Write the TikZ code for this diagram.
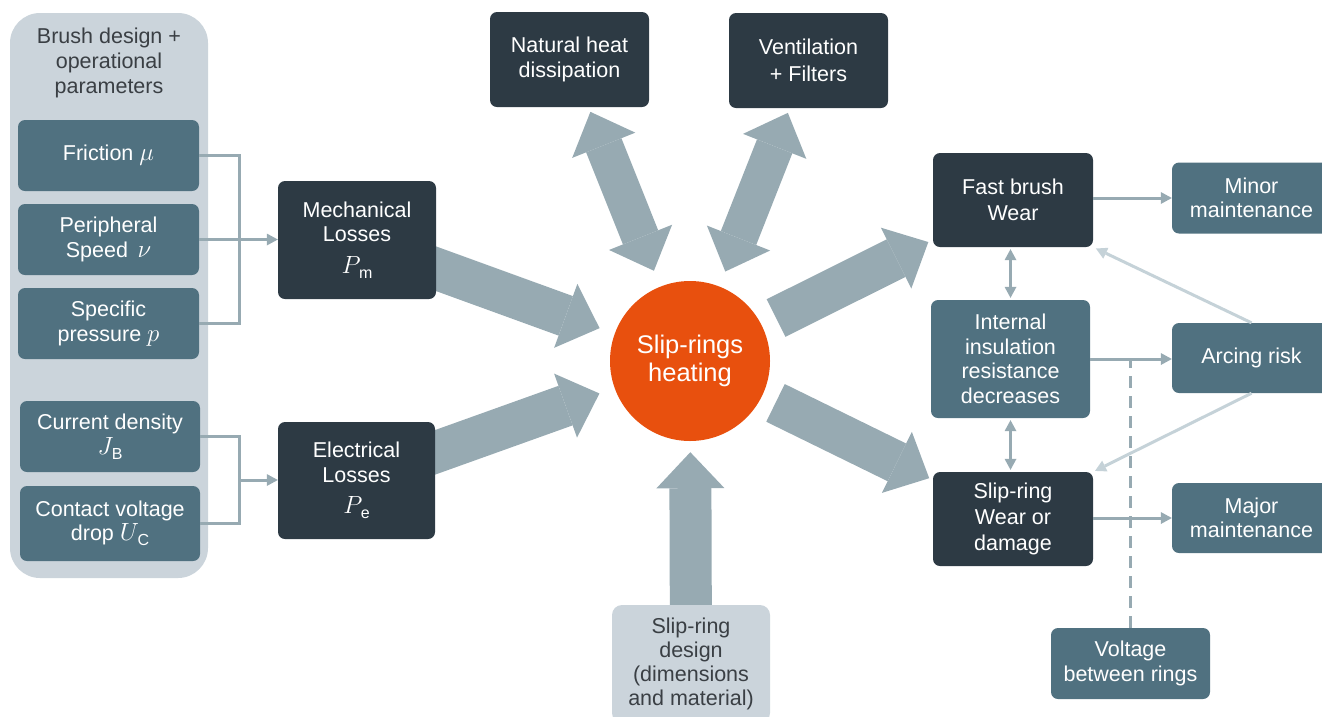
\documentclass[tikz,border=0pt]{standalone}
\usepackage{fontspec}
\setmainfont{Liberation Sans}
\usetikzlibrary{arrows.meta}
\definecolor{darkbox}{HTML}{2D3A44}
\definecolor{tealbox}{HTML}{507180}
\definecolor{panelgray}{HTML}{CBD4DB}
\definecolor{arrgray}{HTML}{97AAB2}
\definecolor{lightarr}{HTML}{C5D2D8}
\definecolor{heatorange}{HTML}{E8500E}
\definecolor{titlegray}{HTML}{3A3F44}
\newcommand{\bigmath}[1]{{\fontsize{24.88}{25}\selectfont$#1$}}
\newcommand{\subtxt}[1]{\kern-1.5pt\raisebox{-5pt}{\fontsize{16}{16}\selectfont #1}}
\pgfdeclarelayer{bg}
\pgfsetlayers{bg,main}
\tikzset{
  box/.style={rectangle, rounded corners=7pt, align=center, inner sep=0pt, text=white},
  darkb/.style={box, fill=darkbox},
  tealb/.style={box, fill=tealbox},
  fat/.style={draw=arrgray, line width=42pt, -{Triangle[length=36pt,width=68pt,line width=0pt]}},
  fatboth/.style={draw=arrgray, line width=38pt, {Triangle[length=36pt,width=68pt,line width=0pt]}-{Triangle[length=36pt,width=68pt,line width=0pt]}},
  conn/.style={draw=arrgray, line width=3pt},
  arr/.style={conn, -{Triangle[length=11pt,width=12pt,line width=0pt]}},
  darr/.style={conn, {Triangle[length=11pt,width=12pt,line width=0pt]}-{Triangle[length=11pt,width=12pt,line width=0pt]}},
  larr/.style={draw=lightarr, line width=3pt, -{Triangle[length=11pt,width=12pt,line width=0pt]}},
  dashline/.style={draw=arrgray, line width=3pt, dash pattern=on 12pt off 8pt},
}
\begin{document}
\begin{tikzpicture}[x=1pt,y=-1pt,font=\fontsize{21.5}{24.5}\selectfont]
\useasboundingbox (0,0) rectangle (1322,716);
\clip (0,0) rectangle (1322,716);

% left panel
\node[box, fill=panelgray, rounded corners=30pt, minimum width=198pt, minimum height=565pt] (panel) at (109,295.5) {};
\node[align=center, text=titlegray, font=\fontsize{21.5}{25}\selectfont] (ptitle) at (109,63) {Brush design +\\operational\\parameters};
\node[tealb, minimum width=181pt, minimum height=71pt] (fric) at (108.5,155.5) {Friction \bigmath{\mu}};
\node[tealb, minimum width=181pt, minimum height=71pt] (periph) at (108.5,239.5) {Peripheral\\Speed\, \bigmath{\nu}};
\node[tealb, minimum width=181pt, minimum height=71pt] (spec) at (108.5,323.5) {Specific\\pressure \bigmath{p}};
\node[tealb, minimum width=180pt, minimum height=71pt] (cur) at (110,436.5) {Current density\\\bigmath{J}\subtxt{B}};
\node[tealb, minimum width=180pt, minimum height=75pt] (cont) at (110,523.5) {Contact voltage\\drop \bigmath{U}\subtxt{C}};

% losses
\node[darkb, minimum width=158pt, minimum height=118pt] (mech) at (357,240) {Mechanical\\Losses\\[7pt]\bigmath{P}\subtxt{m}};
\node[darkb, minimum width=157pt, minimum height=117pt] (elec) at (356.5,480.5) {Electrical\\Losses\\[7pt]\bigmath{P}\subtxt{e}};

% top
\node[darkb, minimum width=159pt, minimum height=95pt] (nat) at (569.5,59.5) {Natural heat\\dissipation};
\node[darkb, minimum width=159pt, minimum height=95pt, font=\fontsize{21.5}{27}\selectfont] (vent) at (808.5,60.5) {Ventilation\\+ Filters};

% centre
\node[circle, fill=heatorange, text=white, align=center, minimum size=160pt, inner sep=0pt, font=\fontsize{25.5}{28}\selectfont] (heat) at (690,361) {Slip-rings\\heating};

% right
\node[darkb, minimum width=160pt, minimum height=94pt, font=\fontsize{21.5}{26}\selectfont] (fast) at (1013,200) {Fast brush\\Wear};
\node[tealb, minimum width=159pt, minimum height=118pt] (int) at (1010.5,359) {Internal\\insulation\\resistance\\decreases};
\node[darkb, minimum width=160pt, minimum height=94pt, font=\fontsize{21.5}{26}\selectfont] (sw) at (1013,519) {Slip-ring\\Wear or\\damage};
\node[tealb, minimum width=159pt, minimum height=71pt] (minor) at (1251.5,198) {Minor\\maintenance};
\node[tealb, minimum width=159pt, minimum height=70pt] (arc) at (1251.5,358) {Arcing risk};
\node[tealb, minimum width=159pt, minimum height=70pt] (major) at (1251.5,518) {Major\\maintenance};
\node[tealb, minimum width=159pt, minimum height=71pt] (volt) at (1130.5,663.5) {Voltage\\between rings};
\node[box, fill=panelgray, text=titlegray, rounded corners=10pt, minimum width=158pt, minimum height=118pt, font=\fontsize{21.5}{24}\selectfont] (design) at (691,664) {Slip-ring\\design\\(dimensions\\and material)};

% junction coordinates
\coordinate (jm) at (239,239.5);
\coordinate (je) at (239,480);

% fat arrows (inputs start under their boxes)
\begin{pgfonlayer}{bg}
\draw[fat, shorten >=16pt] (mech.center) -- (heat);
\draw[fat, shorten >=16pt] (elec.center) -- (heat);
\draw[fat, shorten >=11pt] (design.center) -- (heat);
\end{pgfonlayer}
\draw[fat, shorten <=16pt, shorten >=5pt] (heat) -- (fast);
\draw[fat, shorten <=15pt, shorten >=4pt] (heat) -- (sw);
\draw[fatboth, shorten <=5pt, shorten >=17pt] (nat) -- (heat);
\draw[fatboth, shorten <=5pt, shorten >=16pt] (vent) -- (heat);

% left connectors
\draw[conn] (fric.east) -- (fric.east -| jm) |- (spec.east);
\draw[arr] (periph.east) -- (mech.west |- periph.east);
\draw[conn] (cur.east) -- (cur.east -| je) |- (cont.east);
\draw[arr] (je) -- (elec.west |- je);

% right connectors
\draw[arr] (fast.east |- minor) -- (minor.west);
\draw[arr] (int.east) -- (arc.west |- int.east);
\draw[arr] (sw.east |- major) -- (major.west);
\draw[darr, shorten <=2pt, shorten >=2pt] (int.north |- fast.south) -- (int.north);
\draw[darr, shorten <=2pt, shorten >=2pt] (int.south) -- (int.south |- sw.north);
\draw[larr, shorten >=3pt] (arc.north) -- (fast.south east);
\draw[larr, shorten >=2pt] (arc.south) -- (sw.north east);
\draw[dashline] (volt.north) -- (volt.north |- int.east);
\end{tikzpicture}
\end{document}
